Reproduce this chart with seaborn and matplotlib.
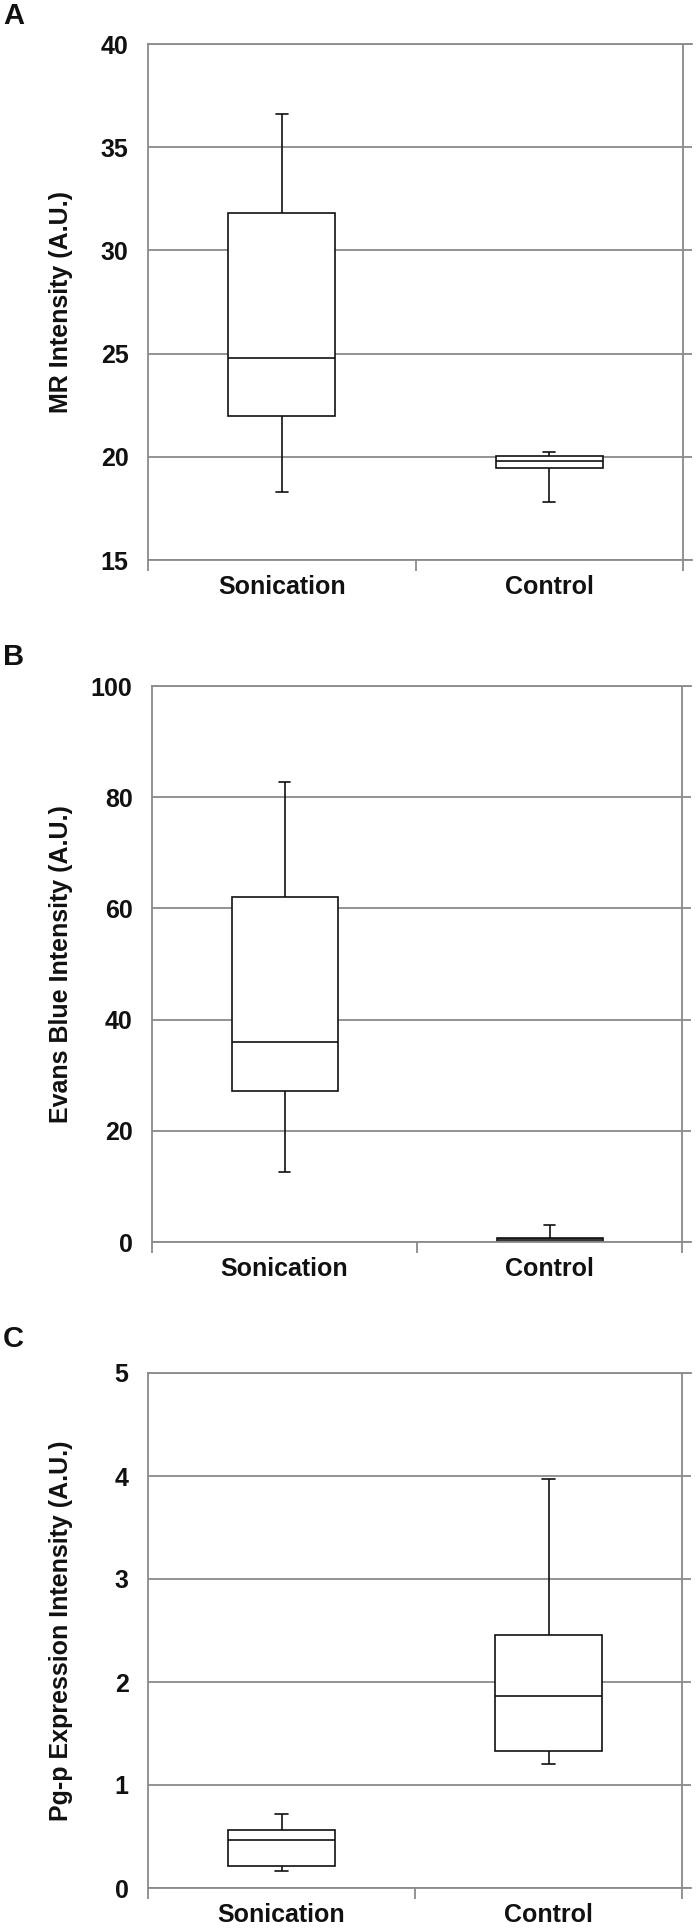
import numpy as np
import pandas as pd
import matplotlib
matplotlib.use("Agg")
import matplotlib.pyplot as plt
import seaborn as sns

# ---- data: five-number summaries (min, Q1, median, Q3, max) ----
groups = ["Sonication", "Control"]

mr_sonication = [18.3, 22.0, 24.8, 31.8, 36.6]
mr_control = [17.8, 19.45, 19.8, 20.05, 20.25]

eb_sonication = [12.6, 27.1, 36.0, 62.0, 82.8]
eb_control = [0.05, 0.15, 0.45, 0.8, 3.0]

pgp_sonication = [0.165, 0.215, 0.47, 0.56, 0.72]
pgp_control = [1.2, 1.33, 1.86, 2.46, 3.97]

yticks_a = [15, 20, 25, 30, 35, 40]
yticks_b = [0, 20, 40, 60, 80, 100]
yticks_c = [0, 1, 2, 3, 4, 5]

ylabel_a = "MR Intensity (A.U.)"
ylabel_b = "Evans Blue Intensity (A.U.)"
ylabel_c = "Pg-p Expression Intensity (A.U.)"

letters = ["A", "B", "C"]

# ---- style ----
sns.set_theme(style="white")
plt.rcParams["font.family"] = ["Liberation Sans", "DejaVu Sans"]
plt.rcParams["font.weight"] = "bold"

GRID = "#8a8a8a"
W, H = 700, 1932
fig = plt.figure(figsize=(W / 100, H / 100), dpi=100)
fig.patch.set_facecolor("white")

XR = 1.535  # right x-limit (grid extends slightly past divider line)


def panel(left, top, bottom, catw, son, ctl, yticks, ylabel, letter, letter_top):
    width = catw * (XR + 0.5)
    ax = fig.add_axes([left / W, 1 - bottom / H, width / W, (bottom - top) / H])
    df = pd.DataFrame({
        "group": np.repeat(groups, [len(son), len(ctl)]),
        "value": list(son) + list(ctl),
    })
    sns.boxplot(data=df, x="group", y="value", order=groups, ax=ax,
                whis=(0, 100), width=0.4, color="white", saturation=1,
                linecolor="#111111", linewidth=1.2, fliersize=0,
                capwidths=0.045)
    ax.set_xlim(-0.5, XR)
    ax.set_ylim(yticks[0], yticks[-1])
    ax.set_yticks(yticks)
    ax.yaxis.grid(True, color=GRID, lw=1.3)
    ax.xaxis.grid(False)
    ax.set_axisbelow(True)
    ax.axvline(1.5, color=GRID, lw=1.3, zorder=0.6)
    ax.spines["right"].set_visible(False)
    for s in ["left", "bottom", "top"]:
        ax.spines[s].set_color(GRID)
        ax.spines[s].set_linewidth(1.3)
    ax.set_xticks([-0.5, 0.5, 1.5], minor=True)
    ax.tick_params(axis="x", which="minor", length=8, color=GRID, width=1.3,
                   direction="out", bottom=True)
    ax.tick_params(axis="x", which="major", length=0, pad=11, labelsize=18,
                   labelcolor="#111111")
    ax.tick_params(axis="y", length=0, pad=14, labelsize=18, labelcolor="#111111")
    for lab in ax.get_xticklabels() + ax.get_yticklabels():
        lab.set_fontweight("bold")
    ax.set_xlabel("")
    ax.set_ylabel(ylabel, fontsize=18, fontweight="bold", color="#111111")
    ax.yaxis.set_label_coords((73 - left) / width, 0.5)
    fig.text(3 / W, 1 - letter_top / H, letter, fontsize=21, fontweight="bold",
             va="top", ha="left", color="#111111")
    return ax


panel(148, 44, 560, 267.5, mr_sonication, mr_control, yticks_a, ylabel_a, letters[0], 2)
panel(152, 686, 1242, 265, eb_sonication, eb_control, yticks_b, ylabel_b, letters[1], 643)
panel(148, 1373, 1888, 267, pgp_sonication, pgp_control, yticks_c, ylabel_c, letters[2], 1325)

fig.savefig("out.png", dpi=100, facecolor="white")
